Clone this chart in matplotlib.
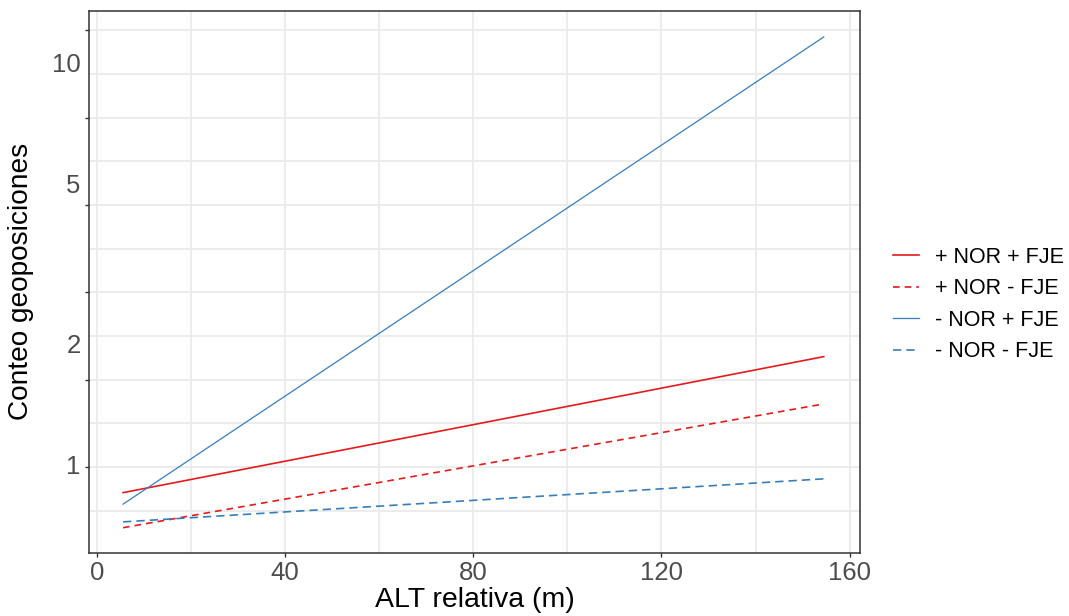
import matplotlib
matplotlib.use('Agg')
import matplotlib.pyplot as plt
import matplotlib.transforms as mtransforms
import numpy as np

plt.rcParams['font.family'] = ['Liberation Sans', 'DejaVu Sans']

# fitted lines (straight on the log scale): start / end points
series = ['+ NOR + FJE', '+ NOR - FJE', '- NOR + FJE', '- NOR - FJE']
x_start = 5.6
x_end = 154.5
y_start = [0.863, 0.706, 0.808, 0.730]
y_end = [1.88, 1.434, 11.72, 0.934]
colors = ['#E41A1C', '#E41A1C', '#377EB8', '#377EB8']
styles = ['-', (0, (4, 3)), '-', (0, (5, 3))]
widths = [1.2, 1.2, 0.9, 1.2]

x_ticks = [0, 40, 80, 120, 160]
x_minor = [20, 60, 100, 140]
y_labels = [1, 2, 5, 10]

fig = plt.figure(figsize=(10.69, 6.16), dpi=100)
ax = fig.add_axes([0.0833, 0.1028, 0.7212, 0.8794])

for name, y0, y1, c, ls, lw in zip(series, y_start, y_end, colors, styles, widths):
	ax.plot([x_start, x_end], [y0, y1], color=c, linestyle=ls, linewidth=lw, label=name)

ax.set_yscale('log')
ax.set_xlim(-1.63, 162.2)
ax.set_ylim(0.612, 13.6)

# grid sits on natural-log steps, labels at 1,2,5,10
y_major = np.exp(np.arange(0, 3, 0.5))
y_minor = np.exp(np.arange(-0.25, 2.75, 0.5))
ax.set_yticks(y_major)
ax.set_yticks(y_minor, minor=True)
ax.set_yticklabels([''] * len(y_major))
ax.set_yticklabels([''] * len(y_minor), minor=True)
ax.set_xticks(x_ticks)
ax.set_xticks(x_minor, minor=True)
ax.set_xticklabels([str(v) for v in x_ticks], fontsize=18.5, color='#4D4D4D')

ax.grid(True, which='both', color='#EBEBEB', linewidth=1.3)
ax.set_axisbelow(True)
ax.tick_params(axis='both', which='major', direction='out', length=3, width=1, color='#333333', pad=3)
ax.tick_params(axis='both', which='minor', length=0)
ax.tick_params(axis='x', which='major', pad=3)

trans = mtransforms.blended_transform_factory(ax.transAxes, ax.transData)
for v in y_labels:
	ax.text(-0.011, v, str(v), transform=trans, ha='right', va='center', fontsize=18.5, color='#4D4D4D')

for sp in ax.spines.values():
	sp.set_color('#333333')
	sp.set_linewidth(1.1)

ax.set_xlabel('ALT relativa (m)', fontsize=20.5)
ax.xaxis.set_label_coords(0.5, -0.063)
ax.set_ylabel('Conteo geoposiciones', fontsize=20.2)
ax.yaxis.set_label_coords(-0.0715, 0.5)

leg = ax.legend(loc='center left', bbox_to_anchor=(1.0428, 0.458), frameon=False, fontsize=15.5,
	handlelength=1.2, handletextpad=0.75, labelspacing=0.49, borderaxespad=0, borderpad=0)

plt.savefig('out.png', dpi=100)
